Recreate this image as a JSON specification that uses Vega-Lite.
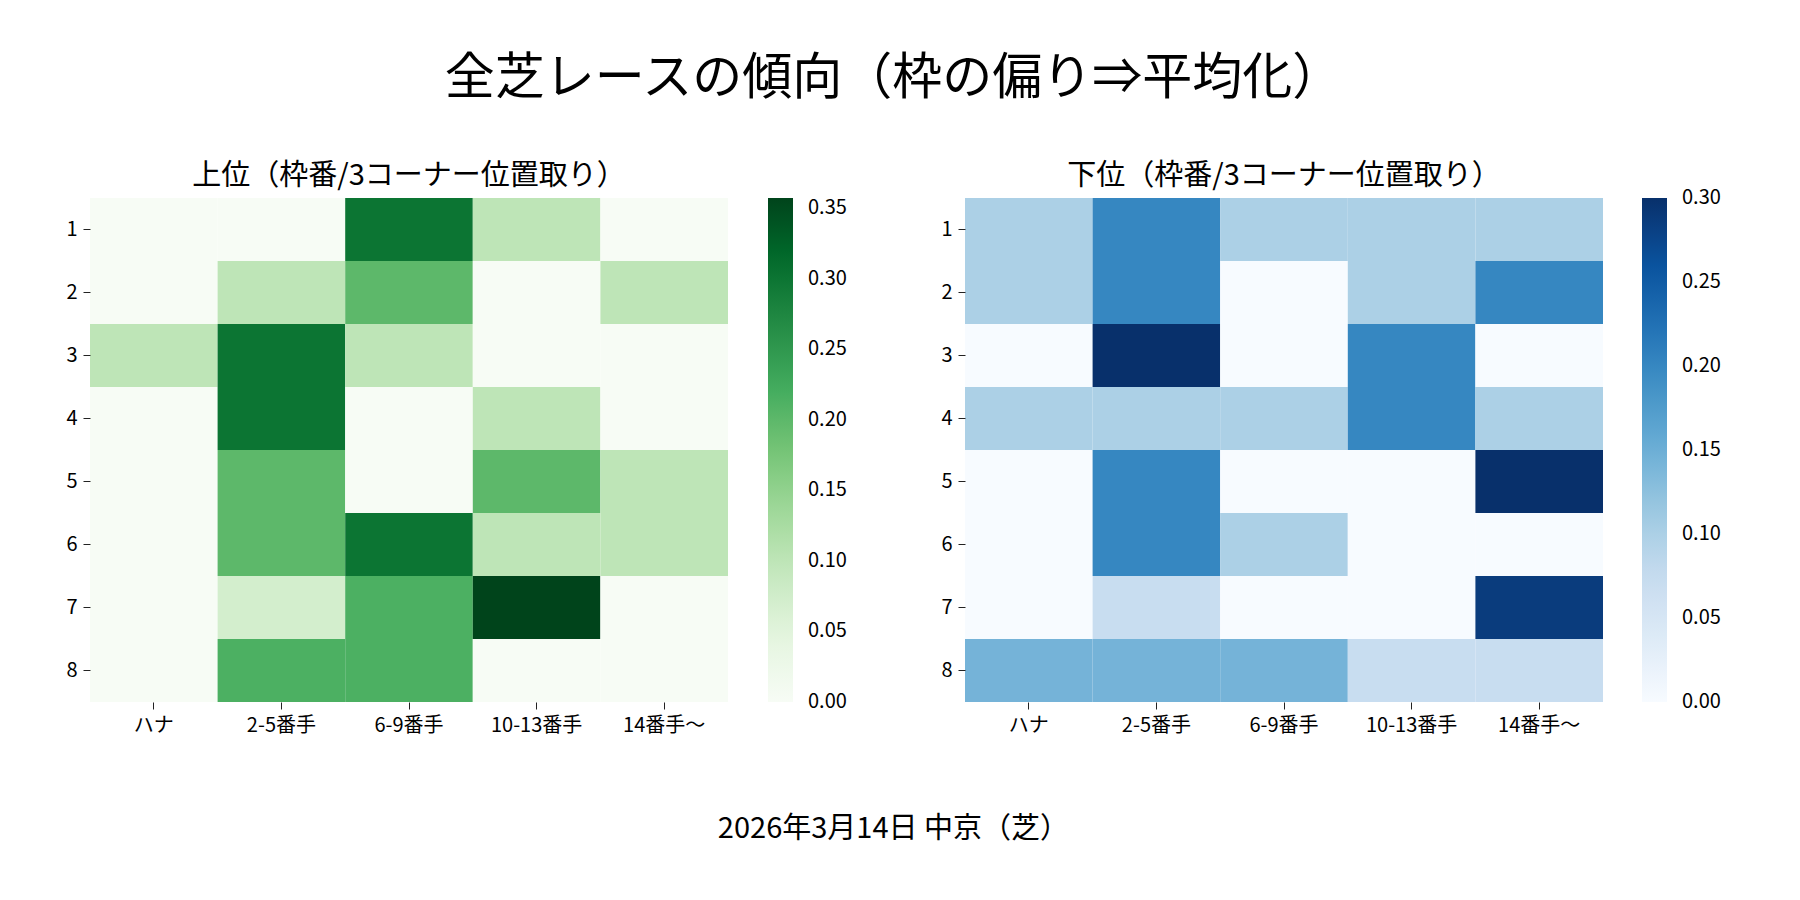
{
  "$schema": "https://vega.github.io/schema/vega-lite/v6.json",
  "background": "white",
  "padding": {"left": 65, "top": 54, "right": 10, "bottom": 10},
  "datasets": {
    "top": [
      {"waku": "1", "pos": "ハナ", "v": 0}, {"waku": "1", "pos": "2-5番手", "v": 0}, {"waku": "1", "pos": "6-9番手", "v": 0.3}, {"waku": "1", "pos": "10-13番手", "v": 0.1}, {"waku": "1", "pos": "14番手～", "v": 0},
      {"waku": "2", "pos": "ハナ", "v": 0}, {"waku": "2", "pos": "2-5番手", "v": 0.1}, {"waku": "2", "pos": "6-9番手", "v": 0.2}, {"waku": "2", "pos": "10-13番手", "v": 0}, {"waku": "2", "pos": "14番手～", "v": 0.1},
      {"waku": "3", "pos": "ハナ", "v": 0.1}, {"waku": "3", "pos": "2-5番手", "v": 0.3}, {"waku": "3", "pos": "6-9番手", "v": 0.1}, {"waku": "3", "pos": "10-13番手", "v": 0}, {"waku": "3", "pos": "14番手～", "v": 0},
      {"waku": "4", "pos": "ハナ", "v": 0}, {"waku": "4", "pos": "2-5番手", "v": 0.3}, {"waku": "4", "pos": "6-9番手", "v": 0}, {"waku": "4", "pos": "10-13番手", "v": 0.1}, {"waku": "4", "pos": "14番手～", "v": 0},
      {"waku": "5", "pos": "ハナ", "v": 0}, {"waku": "5", "pos": "2-5番手", "v": 0.2}, {"waku": "5", "pos": "6-9番手", "v": 0}, {"waku": "5", "pos": "10-13番手", "v": 0.2}, {"waku": "5", "pos": "14番手～", "v": 0.1},
      {"waku": "6", "pos": "ハナ", "v": 0}, {"waku": "6", "pos": "2-5番手", "v": 0.2}, {"waku": "6", "pos": "6-9番手", "v": 0.3}, {"waku": "6", "pos": "10-13番手", "v": 0.1}, {"waku": "6", "pos": "14番手～", "v": 0.1},
      {"waku": "7", "pos": "ハナ", "v": 0}, {"waku": "7", "pos": "2-5番手", "v": 0.0714}, {"waku": "7", "pos": "6-9番手", "v": 0.2143}, {"waku": "7", "pos": "10-13番手", "v": 0.3571}, {"waku": "7", "pos": "14番手～", "v": 0},
      {"waku": "8", "pos": "ハナ", "v": 0}, {"waku": "8", "pos": "2-5番手", "v": 0.2143}, {"waku": "8", "pos": "6-9番手", "v": 0.2143}, {"waku": "8", "pos": "10-13番手", "v": 0}, {"waku": "8", "pos": "14番手～", "v": 0}
    ],
    "bottom": [
      {"waku": "1", "pos": "ハナ", "v": 0.1}, {"waku": "1", "pos": "2-5番手", "v": 0.2}, {"waku": "1", "pos": "6-9番手", "v": 0.1}, {"waku": "1", "pos": "10-13番手", "v": 0.1}, {"waku": "1", "pos": "14番手～", "v": 0.1},
      {"waku": "2", "pos": "ハナ", "v": 0.1}, {"waku": "2", "pos": "2-5番手", "v": 0.2}, {"waku": "2", "pos": "6-9番手", "v": 0}, {"waku": "2", "pos": "10-13番手", "v": 0.1}, {"waku": "2", "pos": "14番手～", "v": 0.2},
      {"waku": "3", "pos": "ハナ", "v": 0}, {"waku": "3", "pos": "2-5番手", "v": 0.3}, {"waku": "3", "pos": "6-9番手", "v": 0}, {"waku": "3", "pos": "10-13番手", "v": 0.2}, {"waku": "3", "pos": "14番手～", "v": 0},
      {"waku": "4", "pos": "ハナ", "v": 0.1}, {"waku": "4", "pos": "2-5番手", "v": 0.1}, {"waku": "4", "pos": "6-9番手", "v": 0.1}, {"waku": "4", "pos": "10-13番手", "v": 0.2}, {"waku": "4", "pos": "14番手～", "v": 0.1},
      {"waku": "5", "pos": "ハナ", "v": 0}, {"waku": "5", "pos": "2-5番手", "v": 0.2}, {"waku": "5", "pos": "6-9番手", "v": 0}, {"waku": "5", "pos": "10-13番手", "v": 0}, {"waku": "5", "pos": "14番手～", "v": 0.3},
      {"waku": "6", "pos": "ハナ", "v": 0}, {"waku": "6", "pos": "2-5番手", "v": 0.2}, {"waku": "6", "pos": "6-9番手", "v": 0.1}, {"waku": "6", "pos": "10-13番手", "v": 0}, {"waku": "6", "pos": "14番手～", "v": 0},
      {"waku": "7", "pos": "ハナ", "v": 0}, {"waku": "7", "pos": "2-5番手", "v": 0.0714}, {"waku": "7", "pos": "6-9番手", "v": 0}, {"waku": "7", "pos": "10-13番手", "v": 0}, {"waku": "7", "pos": "14番手～", "v": 0.2857},
      {"waku": "8", "pos": "ハナ", "v": 0.1429}, {"waku": "8", "pos": "2-5番手", "v": 0.1429}, {"waku": "8", "pos": "6-9番手", "v": 0.1429}, {"waku": "8", "pos": "10-13番手", "v": 0.0714}, {"waku": "8", "pos": "14番手～", "v": 0.0714}
    ]
  },
  "title": {
    "text": "全芝レースの傾向（枠の偏り⇒平均化）",
    "fontSize": 50,
    "font": "Noto Sans CJK JP",
    "fontWeight": "normal",
    "color": "black",
    "anchor": "middle",
    "offset": 58
  },
  "vconcat": [
    {
      "title": {
        "text": "2026年3月14日 中京（芝）",
        "orient": "bottom",
        "fontSize": 29,
        "font": "Noto Sans CJK JP",
        "fontWeight": "normal",
        "color": "black",
        "anchor": "middle",
        "offset": 80
      },
      "spacing": 93,
      "resolve": {"scale": {"color": "independent"}},
      "hconcat": [
        {
          "width": 638,
          "height": 504,
          "title": {"text": "上位（枠番/3コーナー位置取り）", "fontSize": 29, "font": "Noto Sans CJK JP", "fontWeight": "normal", "color": "black", "offset": 7},
          "data": {"name": "top"},
          "mark": {"type": "rect"},
          "encoding": {
            "x": {"field": "pos", "type": "ordinal", "sort": ["ハナ", "2-5番手", "6-9番手", "10-13番手", "14番手～"], "scale": {"paddingInner": 0, "paddingOuter": 0}, "axis": {"title": null, "labelAngle": 0, "domain": false, "tickSize": 7, "tickColor": "#222222", "labelPadding": 6, "labelFontSize": 20, "labelFont": "Noto Sans CJK JP", "labelColor": "black"}},
            "y": {"field": "waku", "type": "ordinal", "sort": ["1", "2", "3", "4", "5", "6", "7", "8"], "scale": {"paddingInner": 0, "paddingOuter": 0}, "axis": {"title": null, "labelAngle": 0, "domain": false, "tickSize": 7, "tickColor": "#222222", "labelPadding": 6, "labelFontSize": 20, "labelFont": "Noto Sans CJK JP", "labelColor": "black"}},
            "color": {
              "field": "v", "type": "quantitative",
              "scale": {"type": "linear", "domain": [0, 0.04464, 0.08929, 0.13393, 0.17857, 0.22321, 0.26786, 0.3125, 0.3571], "range": ["#f7fcf5", "#e5f5e0", "#c7e9c0", "#a1d99b", "#74c476", "#41ab5d", "#238b45", "#006d2c", "#00441b"]},
              "legend": {"title": null, "orient": "right", "direction": "vertical", "gradientLength": 504, "gradientThickness": 25, "gradientStrokeWidth": 0, "offset": 40, "values": [0, 0.05, 0.1, 0.15, 0.2, 0.25, 0.3, 0.35], "format": ".2f", "labelFontSize": 20, "labelFont": "Noto Sans CJK JP", "labelColor": "black", "labelOffset": 15, "labelBaseline": "middle", "labelOverlap": false, "encode": {"labels": {"update": {"baseline": {"value": "middle"}}}}}
            }
          }
        },
        {
          "width": 638,
          "height": 504,
          "title": {"text": "下位（枠番/3コーナー位置取り）", "fontSize": 29, "font": "Noto Sans CJK JP", "fontWeight": "normal", "color": "black", "offset": 7},
          "data": {"name": "bottom"},
          "mark": {"type": "rect"},
          "encoding": {
            "x": {"field": "pos", "type": "ordinal", "sort": ["ハナ", "2-5番手", "6-9番手", "10-13番手", "14番手～"], "scale": {"paddingInner": 0, "paddingOuter": 0}, "axis": {"title": null, "labelAngle": 0, "domain": false, "tickSize": 7, "tickColor": "#222222", "labelPadding": 6, "labelFontSize": 20, "labelFont": "Noto Sans CJK JP", "labelColor": "black"}},
            "y": {"field": "waku", "type": "ordinal", "sort": ["1", "2", "3", "4", "5", "6", "7", "8"], "scale": {"paddingInner": 0, "paddingOuter": 0}, "axis": {"title": null, "labelAngle": 0, "domain": false, "tickSize": 7, "tickColor": "#222222", "labelPadding": 6, "labelFontSize": 20, "labelFont": "Noto Sans CJK JP", "labelColor": "black"}},
            "color": {
              "field": "v", "type": "quantitative",
              "scale": {"type": "linear", "domain": [0, 0.0375, 0.075, 0.1125, 0.15, 0.1875, 0.225, 0.2625, 0.3], "range": ["#f7fbff", "#deebf7", "#c6dbef", "#9ecae1", "#6baed6", "#4292c6", "#2171b5", "#08519c", "#08306b"]},
              "legend": {"title": null, "orient": "right", "direction": "vertical", "gradientLength": 504, "gradientThickness": 25, "gradientStrokeWidth": 0, "offset": 39, "values": [0, 0.05, 0.1, 0.15, 0.2, 0.25, 0.3], "format": ".2f", "labelFontSize": 20, "labelFont": "Noto Sans CJK JP", "labelColor": "black", "labelOffset": 15, "labelBaseline": "middle", "labelOverlap": false, "encode": {"labels": {"update": {"baseline": {"value": "middle"}}}}}
            }
          }
        }
      ]
    }
  ],
  "config": {
    "view": {"stroke": null},
    "font": "Noto Sans CJK JP",
    "axis": {"grid": false}
  }
}
